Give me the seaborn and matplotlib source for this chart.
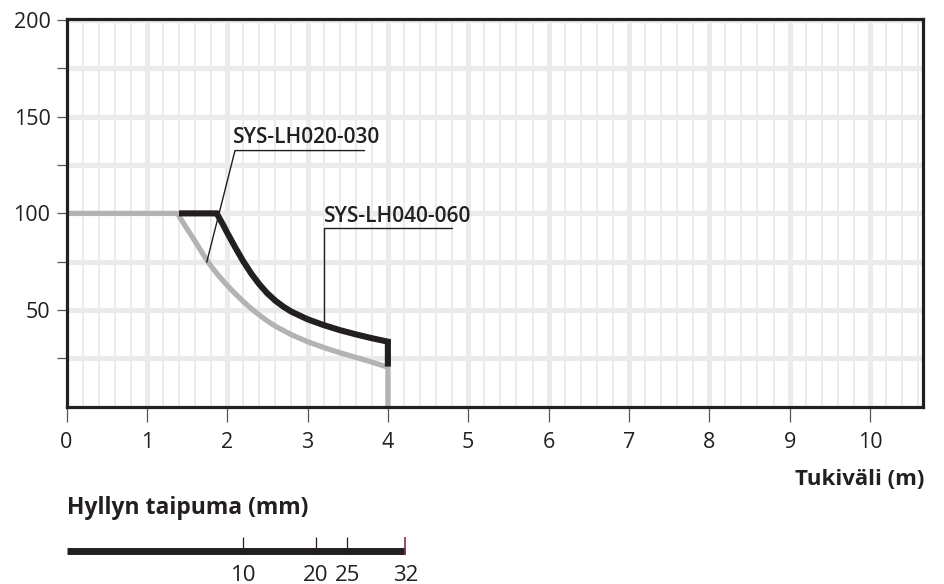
import numpy as np
import pandas as pd
import matplotlib
matplotlib.use("Agg")
import matplotlib.pyplot as plt
import seaborn as sns

# ---------------- data ----------------
gray_span = [0.0, 1.38, 1.5, 1.6, 1.7, 1.8, 1.9, 2.0, 2.1, 2.2, 2.3, 2.4, 2.5, 2.6,
             2.8, 3.0, 3.2, 3.4, 3.6, 3.8, 4.0, 4.0]
gray_load = [100, 100, 92.0, 85.6, 78.8, 72.6, 67.4, 62.8, 58.4, 54.4, 50.7, 47.4,
             44.3, 41.6, 37.2, 33.6, 30.6, 27.9, 25.5, 23.0, 20.4, 0]

black_span = [1.4, 1.87, 1.95, 2.0, 2.1, 2.2, 2.3, 2.4, 2.5, 2.6, 2.7, 2.8, 3.0,
              3.2, 3.4, 3.6, 3.8, 4.0, 4.0]
black_load = [100, 100, 94.0, 90.0, 82.4, 75.2, 68.8, 63.3, 58.6, 54.8, 51.7, 49.1,
              45.2, 42.2, 39.6, 37.4, 35.4, 33.6, 20.7]

x_ticks = [0, 1, 2, 3, 4, 5, 6, 7, 8, 9, 10]
y_ticks = [25, 50, 75, 100, 125, 150, 175, 200]
y_labels = ["", "50", "", "100", "", "150", "", "200"]

deflection_labels = ["10", "20", "25", "32"]
deflection_span = [2.20, 3.10, 3.495, 4.217]

label_020 = "SYS-LH020-030"
label_040 = "SYS-LH040-060"

# ---------------- style ----------------
sns.set_theme(style="white")
plt.rcParams["font.family"] = ["Open Sans", "DejaVu Sans"]

DARK = "#231f20"
GRAY = "#b3b3b3"
GRID = "#ebebeb"

fig = plt.figure(figsize=(9.44, 5.84), dpi=100)
W, H = 944, 584
x0px, x1px = 66.5, 923.0
ytop, ybot = 19.0, 406.6
XMAX = 10.66
ax = fig.add_axes([x0px / W, (H - ybot) / H, (x1px - x0px) / W, (ybot - ytop) / H])
ax.set_xlim(0, XMAX)
ax.set_ylim(0, 200.6)

# grid
minor_x = [v for v in np.arange(0.2, XMAX, 0.2) if abs(v - round(v)) > 1e-6]
for v in minor_x:
    ax.axvline(v, color=GRID, lw=1.4, zorder=0)
for v in x_ticks[1:]:
    ax.axvline(v, color=GRID, lw=3.6, zorder=0)
for v in y_ticks:
    ax.axhline(v, color=GRID, lw=3.8, zorder=0)

df_gray = pd.DataFrame({"span": gray_span, "load": gray_load})
df_black = pd.DataFrame({"span": black_span, "load": black_load})
sns.lineplot(data=df_gray, x="span", y="load", sort=False, estimator=None,
             color=GRAY, lw=3.8, ax=ax, zorder=3, solid_joinstyle="round",
             solid_capstyle="butt")
sns.lineplot(data=df_black, x="span", y="load", sort=False, estimator=None,
             color=DARK, lw=4.4, ax=ax, zorder=4, solid_joinstyle="miter",
             solid_capstyle="butt")

# annotations
ax.text(2.076, 136.6, label_020, fontsize=15, fontweight="semibold", color=DARK,
        ha="left", va="baseline", zorder=6)
ax.plot([3.71, 2.097, 1.745], [132.5, 132.5, 74.7], color=DARK, lw=1.0, zorder=5)
ax.text(3.205, 95.7, label_040, fontsize=15, fontweight="semibold", color=DARK,
        ha="left", va="baseline", zorder=6)
ax.plot([4.80, 3.21, 3.21], [92.6, 92.6, 42.2], color=DARK, lw=1.0, zorder=5)

# axes styling
ax.set_xticks(x_ticks)
ax.set_xticklabels([str(v) for v in x_ticks])
ax.set_yticks(y_ticks)
ax.set_yticklabels(y_labels)
ax.set_xlabel("")
ax.set_ylabel("")
ax.tick_params(axis="x", direction="out", length=11, width=0.9, color="#555555",
               labelsize=15.5, labelcolor=DARK, pad=7, bottom=True)
ax.tick_params(axis="y", direction="out", length=7.5, width=0.9, color="#555555",
               labelsize=15.5, labelcolor=DARK, pad=4, left=True)
for s in ax.spines.values():
    s.set_color(DARK)
    s.set_linewidth(2.3)
    s.set_visible(True)
    s.set_zorder(7)

fig.text(924 / W, 1 - 485 / H, "Tukiväli (m)", fontsize=16, fontweight="bold",
         color=DARK, ha="right", va="baseline")
fig.text(66.7 / W, 1 - 514.3 / H, "Hyllyn taipuma (mm)", fontsize=16.5,
         fontweight="bold", color=DARK, ha="left", va="baseline")

# deflection scale
ax2 = fig.add_axes([x0px / W, 0, (x1px - x0px) / W, 54 / H])
ax2.set_xlim(0, XMAX)
ax2.set_ylim(0, 1)
ax2.axis("off")
ax2.plot([0, deflection_span[-1]], [0.615, 0.615], color=DARK, lw=5.0,
         solid_capstyle="butt")
ax2.vlines(deflection_span[:-1], 0.55, 0.876, color=DARK, lw=0.9)
ax2.vlines(deflection_span[-1:], 0.53, 0.876, color="#7a2d5c", lw=1.2)
for xs, lab in zip(deflection_span, deflection_labels):
    ax2.text(xs, 0.05, lab, fontsize=16, color=DARK, ha="center", va="baseline")

fig.savefig("out.png", dpi=100)
